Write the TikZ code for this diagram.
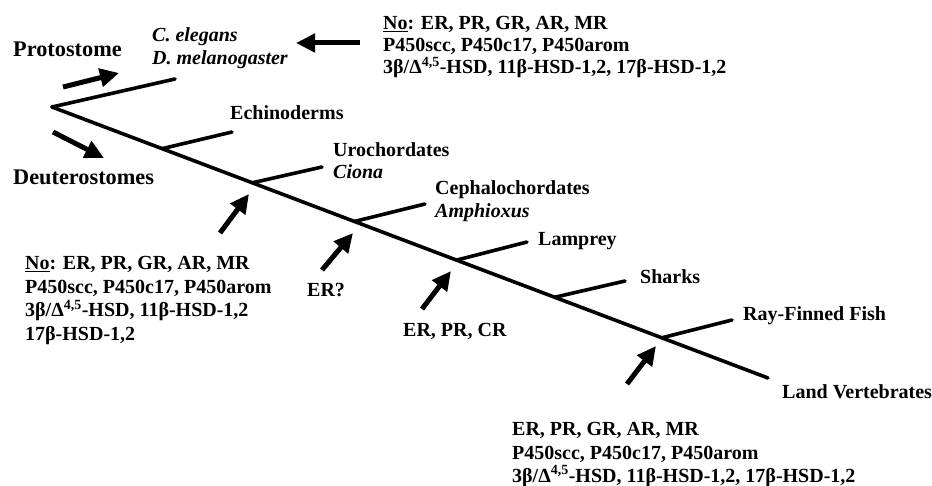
\documentclass[tikz,border=0pt]{standalone}
\usepackage{fontspec}
\setmainfont{Liberation Serif}
\usetikzlibrary{arrows.meta,calc}
\begin{document}
\begin{tikzpicture}[x=1pt,y=-1pt,
  tree/.style={line width=3.6pt,line cap=round},
  bigarrow/.style={line width=5pt,-{Triangle[length=19pt,width=18pt]}},
  lbl/.style={anchor=base west,inner sep=0pt,font=\fontsize{20}{23}\selectfont\bfseries},
  ilbl/.style={lbl,font=\fontsize{20}{23}\selectfont\bfseries\itshape},
  biglbl/.style={anchor=base west,inner sep=0pt,font=\fontsize{22.3}{26}\selectfont\bfseries}]
\useasboundingbox[fill=white] (0,0) rectangle (932,486);
% tree
\coordinate (root) at (52,107);
\coordinate (tip) at (768,378);
\coordinate (bEch) at ($(root)!0.1538!(tip)$);
\coordinate (bUro) at ($(root)!0.2797!(tip)$);
\coordinate (bCep) at ($(root)!0.4224!(tip)$);
\coordinate (bLam) at ($(root)!0.5650!(tip)$);
\coordinate (bSha) at ($(root)!0.7021!(tip)$);
\coordinate (bRay) at ($(root)!0.8517!(tip)$);
\coordinate (eProt) at (175,79);
\coordinate (eEch) at (232,132);
\coordinate (eUro) at (322,167);
\coordinate (eCep) at (425,204);
\coordinate (eLam) at (527,242);
\coordinate (eSha) at (625,281);
\coordinate (eRay) at (732,320);
\draw[tree] (root) -- (tip);
\draw[tree] (root) -- (eProt);
\draw[tree] (bEch) -- (eEch);
\draw[tree] (bUro) -- (eUro);
\draw[tree] (bCep) -- (eCep);
\draw[tree] (bLam) -- (eLam);
\draw[tree] (bSha) -- (eSha);
\draw[tree] (bRay) -- (eRay);
% labels
\node[biglbl] (proto) at (13,57) {Protostome};
\node[biglbl] (deut) at (13,185) {Deuterostomes};
\node[ilbl] (cel) at (152,42) {C. elegans};
\node[ilbl] (dmel) at (152,65) {D. melanogaster};
\node[lbl] (ech) at (230,120) {Echinoderms};
\node[lbl] (uro) at (333,157) {Urochordates};
\node[ilbl] (cio) at (333,179) {Ciona};
\node[lbl] (cep) at (435,195) {Cephalochordates};
\node[ilbl] (amp) at (435,218) {Amphioxus};
\node[lbl] (lam) at (538,246) {Lamprey};
\node[lbl] (sha) at (640,284) {Sharks};
\node[lbl] (ray) at (743,321) {Ray-Finned Fish};
\node[lbl] (land) at (782,399) {Land Vertebrates};
% top-right block
\node[lbl] (t1) at (383,30) {\underline{No}: ER, PR, GR, AR, MR};
\node[lbl] (t2) at (383,52) {P450scc, P450c17, P450arom};
\node[lbl] (t3) at (383,74) {3β/Δ\textsuperscript{4,5}-HSD, 11β-HSD-1,2, 17β-HSD-1,2};
% left block
\node[lbl] (l1) at (25,270) {\underline{No}: ER, PR, GR, AR, MR};
\node[lbl] (l2) at (25,293.5) {P450scc, P450c17, P450arom};
\node[lbl] (l3) at (25,317) {3β/Δ\textsuperscript{4,5}-HSD, 11β-HSD-1,2};
\node[lbl] (l4) at (25,340.5) {17β-HSD-1,2};
% middle labels
\node[lbl] (erq) at (307,297) {ER?};
\node[lbl] (erpr) at (403,337) {ER, PR, CR};
% bottom block
\node[lbl] (b1) at (512,435) {ER, PR, GR, AR, MR};
\node[lbl] (b2) at (512,459) {P450scc, P450c17, P450arom};
\node[lbl] (b3) at (512,482) {3β/Δ\textsuperscript{4,5}-HSD, 11β-HSD-1,2, 17β-HSD-1,2};
% arrows
\coordinate (aTopS) at (360,43);   \coordinate (aTopE) at (296,43);
\coordinate (aProS) at (63,87);    \coordinate (aProE) at (119,73);
\coordinate (aDeuS) at (53,132);   \coordinate (aDeuE) at (104,158);
\coordinate (aUroS) at (220,233);  \coordinate (aUroE) at (249,194);
\coordinate (aErqS) at (322,270);  \coordinate (aErqE) at (353,233);
\coordinate (aErpS) at (422,309);  \coordinate (aErpE) at (451,271);
\coordinate (aLanS) at (627,384);  \coordinate (aLanE) at (656,346);
\draw[bigarrow] (aTopS) -- (aTopE);
\draw[bigarrow] (aProS) -- (aProE);
\draw[bigarrow] (aDeuS) -- (aDeuE);
\draw[bigarrow] (aUroS) -- (aUroE);
\draw[bigarrow] (aErqS) -- (aErqE);
\draw[bigarrow] (aErpS) -- (aErpE);
\draw[bigarrow] (aLanS) -- (aLanE);
\end{tikzpicture}
\end{document}
